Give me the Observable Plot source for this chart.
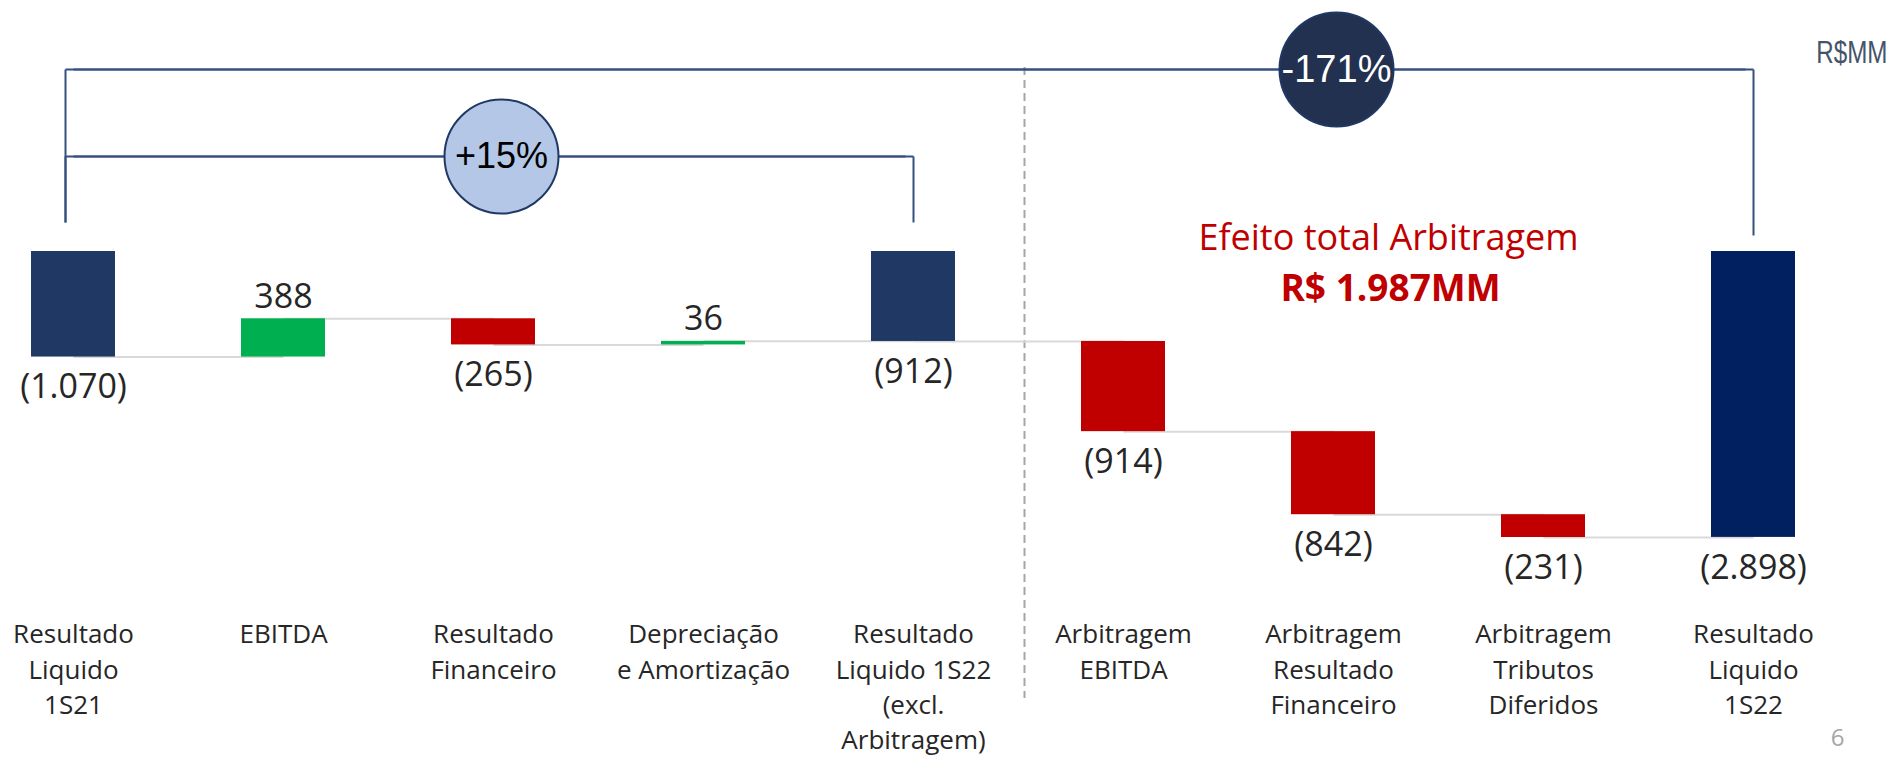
<!DOCTYPE html>
<html><head><meta charset="utf-8">
<script src="https://cdn.jsdelivr.net/npm/d3@7"></script>
<script src="https://cdn.jsdelivr.net/npm/@observablehq/plot@0.6"></script>
<style>
html,body{margin:0;padding:0;background:#fff;}
#chart{width:1901px;height:760px;overflow:hidden;}
</style></head><body><div id="chart"></div>
<script>
// ---- data ----
const categories = [
  "Resultado\nLiquido\n1S21",
  "EBITDA",
  "Resultado\nFinanceiro",
  "Depreciação\ne Amortização",
  "Resultado\nLiquido 1S22\n(excl.\nArbitragem)",
  "Arbitragem\nEBITDA",
  "Arbitragem\nResultado\nFinanceiro",
  "Arbitragem\nTributos\nDiferidos",
  "Resultado\nLiquido\n1S22"
];
const values = [-1070, 388, -265, 36, -912, -914, -842, -231, -2898];
const kinds = ["total", "delta", "delta", "delta", "total", "delta", "delta", "delta", "total"];
const bracketFrom = [0, 0];
const bracketTo = [4, 8];
const bracketLabels = ["+15%", "-171%"];
const unitLabel = "R$MM";
const noteTitle = "Efeito total Arbitragem";
const noteValue = "R$ 1.987MM";
const pageNumber = "6";

// ---- waterfall rows ----
let running = 0;
const rows = values.map((v, i) => {
  let y1, y2;
  if (kinds[i] === "total") { y1 = 0; y2 = v; running = v; }
  else { y1 = running; y2 = running + v; running = y2; }
  return {i, cat: categories[i], value: v, kind: kinds[i], y1, y2, end: running};
});
const connectors = rows.slice(0, -1).map((r, i) => ({x1: r.cat, x2: categories[i + 1], y: r.end}));
const fmt = v => {
  const s = d3.format(",")(Math.abs(v)).replace(/,/g, ".");
  return v < 0 ? `(${s})` : s;
};
const fillOf = r => r.kind === "total" ? (r.i === rows.length - 1 ? "#002060" : "#203864")
  : r.value >= 0 ? "#00b050" : "#c00000";

// layout
const W = 1901, H = 760, TOP = 251, BOT = 537;
const yMin = d3.min(rows, r => Math.min(r.y1, r.y2));
const py = px => yMin * (px - TOP) / (BOT - TOP); // pixel row -> value (annotation helper)

const bracketLevels = [py(156), py(69)];
const stemEnd = [py(222), py(235)];
const navy = "#34507f";

const bracketH = [], bracketLeft = [], bracketRight = [];
bracketFrom.forEach((f, k) => {
  const L = bracketLevels[k];
  bracketH.push({x1: categories[f], x2: categories[bracketTo[k]], y: L});
  bracketLeft.push({x: categories[f], y1: py(222), y2: L});
  bracketRight.push({x: categories[bracketTo[k]], y1: stemEnd[k], y2: L});
});

const chart = Plot.plot({
  width: W, height: H,
  marginTop: TOP, marginBottom: H - BOT, marginLeft: 29, marginRight: 105,
  style: {fontFamily: "'Open Sans', sans-serif", color: "#262626", background: "#fff", overflow: "visible"},
  x: {domain: categories, paddingInner: 0.6, paddingOuter: 0, align: 0.5, axis: null},
  y: {domain: [yMin, 0], axis: null},
  marks: [
    // dashed divider
    Plot.ruleX([categories[5]], {y1: py(67), y2: py(698), dx: -99, stroke: "#a6a6a6", strokeWidth: 2, strokeDasharray: "8,5"}),
    // connectors
    Plot.link(connectors, {x1: "x1", x2: "x2", y1: "y", y2: "y", stroke: "#d9d9d9", strokeWidth: 2}),
    // bars
    Plot.barY(rows, {x: "cat", y1: "y1", y2: "y2", fill: fillOf}),
    // value labels
    Plot.text(rows.filter(r => r.value < 0), {x: "cat", y: r => Math.min(r.y1, r.y2), text: r => fmt(r.value), lineAnchor: "top", dy: 17, fontSize: 34, fill: "#262626"}),
    Plot.text(rows.filter(r => r.value >= 0), {x: "cat", y: r => Math.max(r.y1, r.y2), text: r => fmt(r.value), lineAnchor: "bottom", dy: -11, fontSize: 34, fill: "#262626"}),
    // category axis
    Plot.axisX({anchor: "bottom", tickSize: 0, tickPadding: 81, fontSize: 26, lineHeight: 1.35, label: null, tickFormat: d => d, fill: "#262626"}),
    // brackets
    Plot.link(bracketH, {x1: "x1", x2: "x2", y1: "y", y2: "y", dx: -8, stroke: navy, strokeWidth: 2}),
    Plot.link(bracketH, {x1: "x1", x2: "x2", y1: "y", y2: "y", stroke: navy, strokeWidth: 2}),
    Plot.link(bracketLeft, {x1: "x", x2: "x", y1: "y1", y2: "y2", dx: -8, stroke: navy, strokeWidth: 2}),
    Plot.link(bracketRight, {x1: "x", x2: "x", y1: "y1", y2: "y2", stroke: navy, strokeWidth: 2}),
    Plot.dot([bracketLabels[0]], {x: () => categories[2], y: () => bracketLevels[0], dx: 8, r: 57, fill: "#b4c7e7", stroke: "#1f3864", strokeWidth: 2}),
    Plot.dot([bracketLabels[1]], {x: () => categories[6], y: () => bracketLevels[1], dx: 3, r: 57, fill: "#22314f", stroke: "#1f3864", strokeWidth: 2}),
    Plot.text([bracketLabels[0]], {x: () => categories[2], y: () => bracketLevels[0], dx: 8, text: d => d, fontSize: 36, fontFamily: "'Liberation Sans', Arial, sans-serif", fill: "#000", lineAnchor: "middle"}),
    Plot.text([bracketLabels[1]], {x: () => categories[6], y: () => bracketLevels[1], dx: 3, text: d => d, fontSize: 38, fontFamily: "'Liberation Sans', Arial, sans-serif", fill: "#fff", lineAnchor: "middle"}),
    // unit label
    Plot.text([unitLabel], {x: () => categories[8], y: () => py(62), dx: 134, text: d => d, textAnchor: "end", lineAnchor: "bottom", fontSize: 31, fontFamily: "'Liberation Sans', sans-serif", fill: "#44546a", className: "unit-label"}),
    // arbitrage note
    Plot.text([noteTitle], {x: () => categories[6], y: () => py(249), dx: 55, text: d => d, lineAnchor: "bottom", fontSize: 36, fill: "#c00000"}),
    Plot.text([noteValue], {x: () => categories[6], y: () => py(300), dx: 57, text: d => d, lineAnchor: "bottom", fontSize: 37, fontWeight: "bold", fill: "#c00000"}),
    // page number
    Plot.text([pageNumber], {x: () => categories[8], y: () => py(745), dx: 84, text: d => d, lineAnchor: "bottom", fontSize: 24, fill: "#a6a6a6"})
  ]
});
// narrow the unit label like the reference (condensed face)
d3.select(chart).selectAll(".unit-label text").each(function () {
  const t = this.getAttribute("transform") || "";
  this.setAttribute("transform", t + " scale(0.78,1)");
});
document.getElementById("chart").appendChild(chart);
</script></body></html>
